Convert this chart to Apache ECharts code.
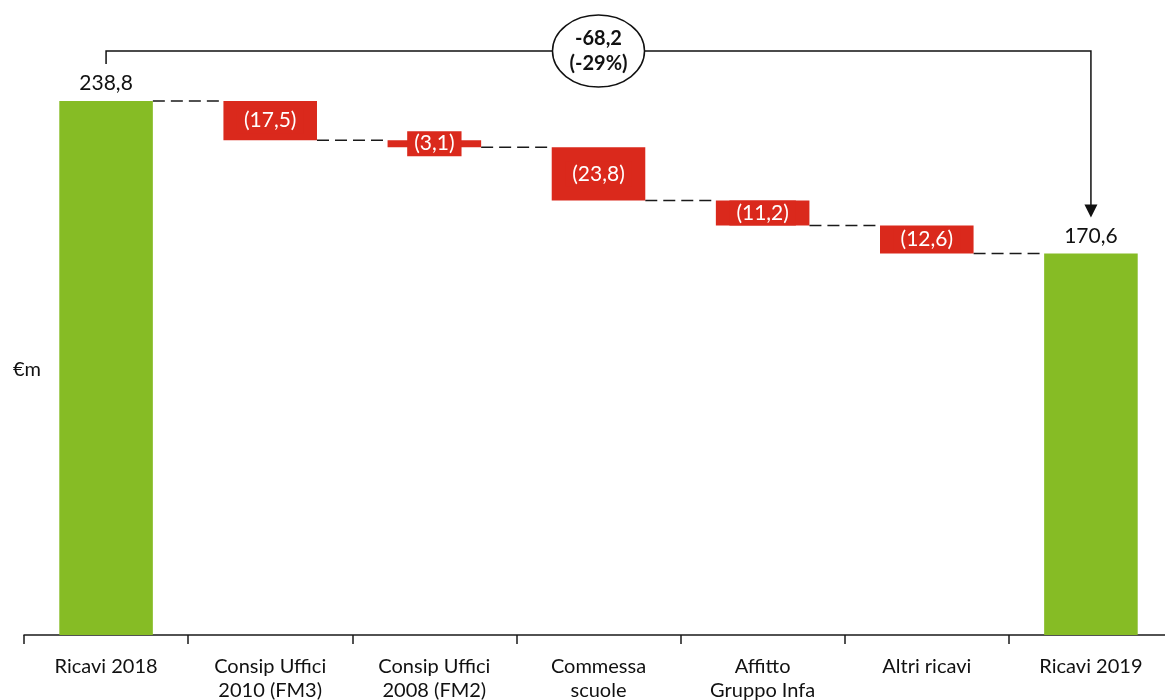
<!DOCTYPE html>
<html>
<head>
<meta charset="utf-8">
<script src="https://cdn.jsdelivr.net/npm/echarts@6/dist/echarts.min.js"></script>
<style>
html,body{margin:0;padding:0;background:#fff;}
#main{width:1165px;height:700px;}
</style>
</head>
<body>
<div id="main"></div>
<script>
// ---- data ----
const categories = ['Ricavi 2018', 'Consip Uffici\n2010 (FM3)', 'Consip Uffici\n2008 (FM2)', 'Commessa\nscuole', 'Affitto\nGruppo Infa', 'Altri ricavi', 'Ricavi 2019'];
const startTotal = 238.8;
const endTotal = 170.6;
const changes = [-17.5, -3.1, -23.8, -11.2, -12.6];
const deltaText = '-68,2';
const deltaPctText = '(-29%)';
const unitLabel = '€m';

// ---- derived ----
const GREEN = '#86BC25', RED = '#DA291C', FONT = 'Lato, "Open Sans", sans-serif';
const fmt = v => v.toFixed(1).replace('.', ',');
const running = [startTotal];
changes.forEach(c => running.push(+(running[running.length - 1] + c).toFixed(1)));
const n = categories.length;
const baseData = [], redData = [], greenData = [];
for (let i = 0; i < n; i++) {
  if (i === 0) { baseData.push(0); greenData.push(startTotal); redData.push('-'); }
  else if (i === n - 1) { baseData.push(0); greenData.push(endTotal); redData.push('-'); }
  else {
    const c = changes[i - 1];
    baseData.push(running[i]);
    redData.push({ value: Math.abs(c), raw: c });
    greenData.push('-');
  }
}
const levels = running.slice();

const chart = echarts.init(document.getElementById('main'));
const option = {
  animation: false,
  grid: { left: 24, top: 9, bottom: 65, width: 1149, outerBoundsMode: 'none', containLabel: false },
  xAxis: {
    type: 'category', data: categories,
    axisLine: { lineStyle: { color: '#1a1a1a', width: 1.5 } },
    axisTick: { show: true, length: 9, lineStyle: { color: '#1a1a1a', width: 1.5 } },
    axisLabel: { color: '#111', fontFamily: FONT, fontSize: 20, lineHeight: 24, margin: 20, interval: 0 }
  },
  yAxis: { type: 'value', min: 0, max: 280, show: false },
  series: [
    { name: 'base', type: 'bar', stack: 'w', barWidth: '57%', data: baseData,
      itemStyle: { color: 'transparent' }, silent: true },
    { name: 'neg', type: 'bar', stack: 'w', barWidth: '57%', data: redData,
      itemStyle: { color: RED },
      label: { show: true, position: 'inside', color: '#fff', fontFamily: FONT, fontSize: 21,
        backgroundColor: RED, padding: [2, 7],
        formatter: p => '(' + fmt(p.data.value) + ')' } },
    { name: 'tot', type: 'bar', stack: 'w', barWidth: '57%', data: greenData,
      itemStyle: { color: GREEN },
      label: { show: true, position: 'top', distance: 7, color: '#111', fontFamily: FONT, fontSize: 21,
        formatter: p => fmt(p.value) } },
    { name: 'conn', type: 'custom', data: levels.slice(0, n - 1).map((v, i) => [i, v]),
      z: 1, silent: true,
      renderItem: (params, api) => {
        const i = api.value(0), lv = api.value(1);
        const bw = api.size([1, 0])[0] * 0.57;
        const p1 = api.coord([i, lv]), p2 = api.coord([i + 1, lv]);
        return { type: 'line', shape: { x1: p1[0] + bw / 2, y1: p1[1], x2: p2[0] - bw / 2, y2: p2[1] },
          style: { stroke: '#1a1a1a', lineWidth: 1.5, lineDash: [12, 6] } };
      } }
  ]
};
chart.setOption(option);

function drawAnnotations() {
  const x0 = chart.convertToPixel({ xAxisIndex: 0 }, 0);
  const x1 = chart.convertToPixel({ xAxisIndex: 0 }, n - 1);
  const yTop0 = chart.convertToPixel({ yAxisIndex: 0 }, startTotal);
  const yTop1 = chart.convertToPixel({ yAxisIndex: 0 }, endTotal);
  const yBr = yTop0 - 50;
  const yStart = yTop0 - 37;
  const yEnd = yTop1 - 36;
  const cx = (x0 + x1) / 2;
  chart.setOption({
    graphic: [
      { type: 'polyline', shape: { points: [[x0, yStart], [x0, yBr], [x1, yBr], [x1, yEnd - 12]] },
        style: { stroke: '#111', lineWidth: 1.5, fill: null }, z: 10 },
      { type: 'polygon', shape: { points: [[x1 - 6.5, yEnd - 13], [x1 + 6.5, yEnd - 13], [x1, yEnd]] },
        style: { fill: '#111' }, z: 10 },
      { type: 'ellipse', shape: { cx: cx, cy: yBr, rx: 46, ry: 36 },
        style: { fill: '#fff', stroke: '#111', lineWidth: 1.5 }, z: 11 },
      { type: 'text', x: cx, y: yBr, z: 12,
        style: { text: deltaText + '\n' + deltaPctText, fill: '#111', font: 'bold 20px ' + FONT,
          align: 'center', verticalAlign: 'middle', lineHeight: 25 } },
      { type: 'text', x: 13, y: 370, z: 12,
        style: { text: unitLabel, fill: '#111', font: '20px ' + FONT, align: 'left', verticalAlign: 'middle' } }
    ]
  });
}
drawAnnotations();
</script>
</body>
</html>
